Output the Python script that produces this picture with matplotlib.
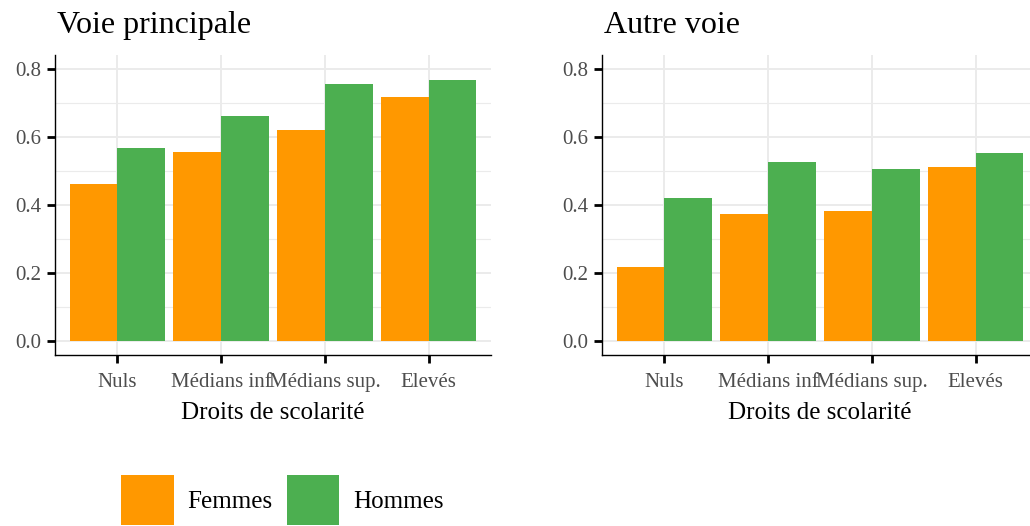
import numpy as np
import matplotlib
matplotlib.use("Agg")
import matplotlib.pyplot as plt
from matplotlib.patches import Patch

plt.rcParams['font.family'] = ['Liberation Serif', 'DejaVu Serif']

categories = ["Nuls", "Médians inf", "Médians sup.", "Elevés"]
groups = ["Femmes", "Hommes"]
colors = ["#FF9800", "#4CAF50"]

principale_femmes = [0.462, 0.555, 0.621, 0.718]
principale_hommes = [0.567, 0.660, 0.754, 0.767]
autre_femmes = [0.219, 0.373, 0.383, 0.511]
autre_hommes = [0.421, 0.525, 0.505, 0.553]

panels = [
    ("Voie principale", principale_femmes, principale_hommes),
    ("Autre voie", autre_femmes, autre_hommes),
]

fig = plt.figure(figsize=(10.3, 5.26), dpi=100)
W, H = 1030, 526
lefts = [55, 602]
width_px = 436

x = np.arange(1, len(categories) + 1)
bw = 0.46

for left, (title, fem, hom) in zip(lefts, panels):
    ax = fig.add_axes([left / W, 1 - 355 / H, width_px / W, 300 / H])
    ax.bar(x - bw / 2, fem, width=bw, color=colors[0], linewidth=0, zorder=2)
    ax.bar(x + bw / 2, hom, width=bw, color=colors[1], linewidth=0, zorder=2)
    ax.set_xlim(0.4, 4.6)
    ax.set_ylim(-0.04, 0.84)
    ax.set_xticks(x)
    ax.set_xticklabels(categories)
    ax.set_yticks([0, 0.2, 0.4, 0.6, 0.8])
    ax.set_yticklabels(["0.0", "0.2", "0.4", "0.6", "0.8"])
    ax.set_yticks([0.1, 0.3, 0.5, 0.7], minor=True)
    ax.grid(which="major", color="#EBEBEB", linewidth=1.4, zorder=0)
    ax.grid(which="minor", axis="y", color="#EBEBEB", linewidth=0.8, zorder=0)
    ax.set_axisbelow(True)
    for s in ["top", "right"]:
        ax.spines[s].set_visible(False)
    for s in ["left", "bottom"]:
        ax.spines[s].set_linewidth(1.0)
        ax.spines[s].set_color("black")
    ax.tick_params(axis="both", which="major", length=5.5, width=2.0,
                   color="black", labelsize=15, labelcolor="#4D4D4D")
    ax.tick_params(axis="x", which="major", pad=7.5)
    ax.tick_params(axis="y", which="major", pad=4.5)
    ax.tick_params(axis="both", which="minor", length=0)
    ax.set_xlabel("Droits de scolarité", fontsize=18, labelpad=7)
    ax.set_title(title, loc="left", fontsize=23, pad=16, x=0.005)

handles = [Patch(facecolor=c, edgecolor="none", label=g) for c, g in zip(colors, groups)]
fig.legend(handles=handles, loc="upper left", bbox_to_anchor=(121 / W, 1 - 475 / H),
           ncol=2, frameon=False, fontsize=18, handlelength=2.1, handleheight=2.7,
           handletextpad=0.56, columnspacing=0.56, borderpad=0, borderaxespad=0)

fig.savefig("out.png", dpi=100)
